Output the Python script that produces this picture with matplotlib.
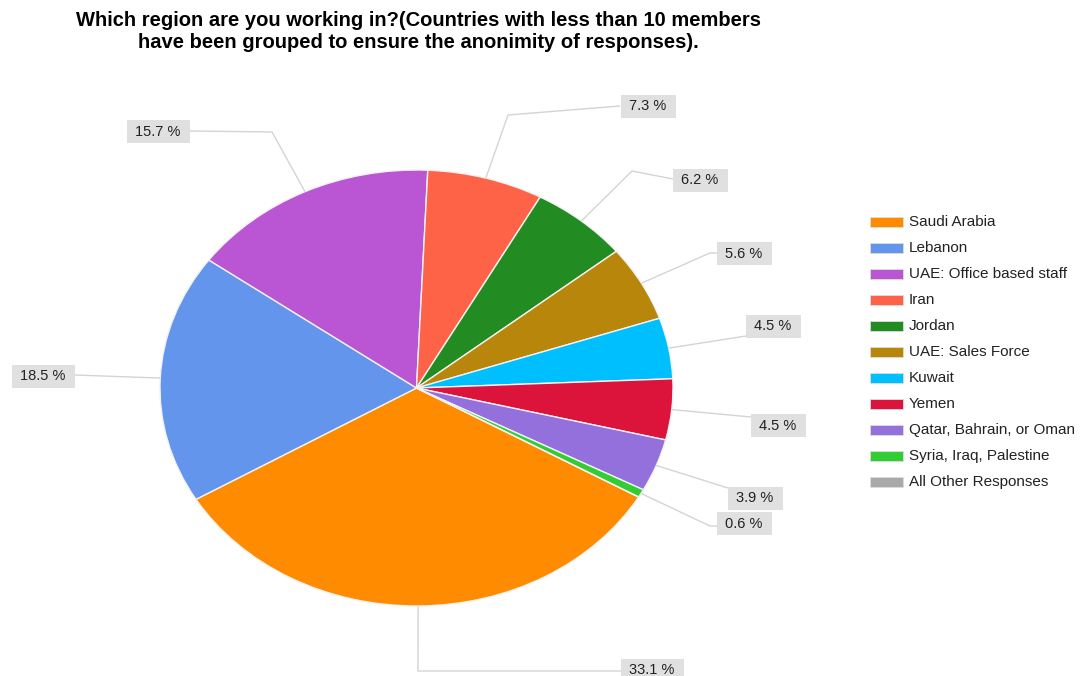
import numpy as np
import matplotlib
matplotlib.use("Agg")
import matplotlib.pyplot as plt
from matplotlib.patches import Rectangle

plt.rcParams['font.family'] = ['Liberation Sans', 'DejaVu Sans']

# ---- data -------------------------------------------------------------
regions = ["Saudi Arabia", "Lebanon", "UAE: Office based staff", "Iran", "Jordan",
           "UAE: Sales Force", "Kuwait", "Yemen", "Qatar, Bahrain, or Oman",
           "Syria, Iraq, Palestine", "All Other Responses"]
shares = [33.1, 18.5, 15.7, 7.3, 6.2, 5.6, 4.5, 4.5, 3.9, 0.6, 0.0]
colors = ["#FF8C00", "#6495ED", "#BA55D3", "#FF6347", "#228B22", "#B8860B",
          "#00BFFF", "#DC143C", "#9370DB", "#32CD32", "#A9A9A9"]
title_lines = ["Which region are you working in?(Countries with less than 10 members",
               "have been grouped to ensure the anonimity of responses)."]

# ---- figure geometry (pixels) ------------------------------------------
W, H = 1088, 676
fig = plt.figure(figsize=(W / 100, H / 100), dpi=100)
cx, cy, rx, ry = 416.5, 388.0, 256.5, 218.0
START = -30.0

pie_ax = fig.add_axes([(cx - rx) / W, (H - cy - ry) / H, 2 * rx / W, 2 * ry / H])
wedges, _ = pie_ax.pie(shares, colors=colors, startangle=START, counterclock=False,
                       radius=1.0, wedgeprops=dict(edgecolor="#f2f2f2", linewidth=1.0))
pie_ax.set_aspect('auto')
pie_ax.set_xlim(-1, 1)
pie_ax.set_ylim(-1, 1)
pie_ax.axis('off')

# overlay in pixel coordinates for leader lines, labels and legend
ov = fig.add_axes([0, 0, 1, 1])
ov.set_xlim(0, W)
ov.set_ylim(H, 0)
ov.axis('off')

# label layout: (box centre, intermediate knee points, end of leader line)
layout = {
    "Saudi Arabia":            ((652, 670), [(418, 671)], (621, 671)),
    "Lebanon":                 ((43, 376), [], (75, 375)),
    "UAE: Office based staff": ((158, 131), [(272, 132)], (190, 131)),
    "Iran":                    ((648, 106), [(508, 115)], (620, 106)),
    "Jordan":                  ((700, 180), [(632, 171)], (673, 179)),
    "UAE: Sales Force":        ((744, 253), [(710, 253)], (717, 253)),
    "Kuwait":                  ((773, 326), [], (746, 336)),
    "Yemen":                   ((778, 425), [], (751, 417)),
    "Qatar, Bahrain, or Oman": ((755, 498), [], (728, 488)),
    "Syria, Iraq, Palestine":  ((744, 523), [(710, 526)], (717, 526)),
}

for w, name, val in zip(wedges, regions, shares):
    if name not in layout or val <= 0:
        continue
    mid = np.deg2rad((w.theta1 + w.theta2) / 2.0)
    px = cx + rx * np.cos(mid)
    py = cy - ry * np.sin(mid)
    (bx, by), knees, end = layout[name]
    pts = [(px, py)] + knees + [end]
    xs, ys = zip(*pts)
    ov.plot(xs, ys, color="#d4d4d4", lw=1.0, solid_capstyle='butt', zorder=1)
    label = f"{val:.1f} %"
    bw = 63 if val >= 10 else 55
    ov.add_patch(Rectangle((bx - bw / 2, by - 11.5), bw, 23, facecolor="#e0e0e0",
                           edgecolor="none", zorder=2))
    ov.text(bx, by + 0.5, label, ha="center", va="center", fontsize=10.5,
            color="#222222", zorder=3)

# legend
for i, (name, col) in enumerate(zip(regions, colors)):
    y = 222 + 26 * i
    ov.add_patch(Rectangle((870, y - 5), 33, 10, facecolor=col,
                           edgecolor="#dddddd", lw=0.6))
    ov.text(909, y, name, ha="left", va="center", fontsize=11, color="#222222")

# title
for line, ty in zip(title_lines, (20, 43)):
    ov.text(418, ty, line, ha="center", va="center", fontsize=14.5,
            fontweight="bold", color="black")

fig.savefig("out.png", dpi=100)
